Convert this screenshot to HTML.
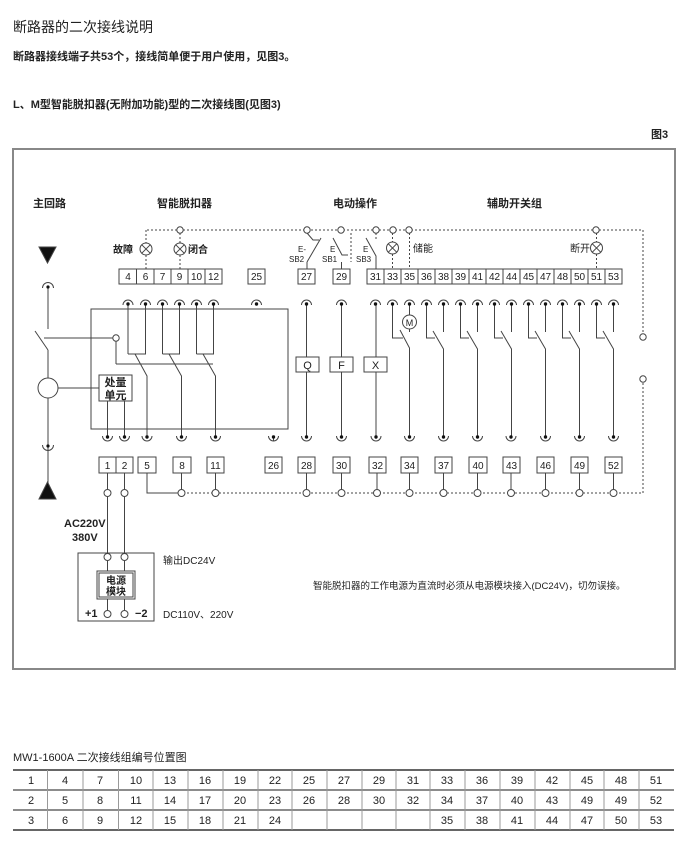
<!DOCTYPE html>
<html><head><meta charset="utf-8"><style>
html,body{margin:0;padding:0;background:#fff;}
body{width:700px;height:854px;position:relative;overflow:hidden;font-family:"Liberation Sans","Noto Sans CJK SC",sans-serif;color:#222;}
svg{position:absolute;left:0;top:0;}
</style></head><body>
<svg width="700" height="854" viewBox="0 0 700 854" xmlns="http://www.w3.org/2000/svg" font-family="Liberation Sans, Noto Sans CJK SC, sans-serif">
<g fill="#222">
<text x="13" y="32" font-size="14">断路器的二次接线说明</text>
<text x="13" y="60" font-size="11" font-weight="bold">断路器接线端子共53个，接线简单便于用户使用，见图3。</text>
<text x="13" y="108" font-size="11" font-weight="bold">L、M型智能脱扣器(无附加功能)型的二次接线图(见图3)</text>
<text x="651" y="138" font-size="11" font-weight="bold">图3</text>
</g>
<rect x="13" y="149" width="662" height="520" fill="none" stroke="#888" stroke-width="2"/>
<g font-size="11" font-weight="bold" fill="#222">
<text x="33" y="207">主回路</text>
<text x="157" y="207">智能脱扣器</text>
<text x="333" y="207">电动操作</text>
<text x="487" y="207">辅助开关组</text>
</g>
<g stroke="#444" stroke-width="1" fill="none">
<polygon points="39,247 56,247 47.5,263" fill="#111"/>
<path d="M42.5 288 A5.5 5.5 0 0 1 53.5 288"/>
<line x1="48" y1="287" x2="48" y2="329"/>
<line x1="35" y1="331" x2="48" y2="350"/>
<line x1="48" y1="350" x2="48" y2="378"/>
<circle cx="48" cy="388" r="10"/>
<line x1="48" y1="398" x2="48" y2="446"/>
<path d="M42.5 445 A5.5 5.5 0 0 0 53.5 445"/>
<line x1="48" y1="446" x2="48" y2="483"/>
<polygon points="39,499 56,499 47.5,482" fill="#111"/>
<line x1="44" y1="338" x2="113" y2="338"/>
<circle cx="116" cy="338" r="3.2" fill="#fff"/>
<line x1="116" y1="341" x2="116" y2="364"/>
<line x1="116" y1="364" x2="213" y2="364"/>
<line x1="58" y1="388" x2="99" y2="388"/>
<rect x="91" y="309" width="197" height="120"/>
<rect x="99" y="375" width="33" height="26" fill="#fff"/>
<line x1="107.5" y1="401" x2="107.5" y2="437"/>
<line x1="124.5" y1="401" x2="124.5" y2="437"/>
<rect x="119" y="269" width="103" height="15"/>
<line x1="136.5" y1="269" x2="136.5" y2="284"/><line x1="154" y1="269" x2="154" y2="284"/>
<line x1="171" y1="269" x2="171" y2="284"/><line x1="188" y1="269" x2="188" y2="284"/>
<line x1="205" y1="269" x2="205" y2="284"/>
<rect x="248" y="269" width="17" height="15"/>
<rect x="298" y="269" width="17" height="15"/>
<rect x="333" y="269" width="17" height="15"/>
<rect x="367" y="269" width="255" height="15"/>
<line x1="384" y1="269" x2="384" y2="284"/><line x1="401" y1="269" x2="401" y2="284"/><line x1="418" y1="269" x2="418" y2="284"/><line x1="435" y1="269" x2="435" y2="284"/><line x1="452" y1="269" x2="452" y2="284"/><line x1="469" y1="269" x2="469" y2="284"/><line x1="486" y1="269" x2="486" y2="284"/><line x1="503" y1="269" x2="503" y2="284"/><line x1="520" y1="269" x2="520" y2="284"/><line x1="537" y1="269" x2="537" y2="284"/><line x1="554" y1="269" x2="554" y2="284"/><line x1="571" y1="269" x2="571" y2="284"/><line x1="588" y1="269" x2="588" y2="284"/><line x1="605" y1="269" x2="605" y2="284"/>
<path d="M128 304V354 M145.5 304V354 M162.5 304V354 M179.5 304V354 M196.5 304V354 M213.5 304V354 M128 354H146 M162.5 354H180 M196.5 354H214 M135 354L147 376V437 M169 354L181.5 376V437 M203 354L215.5 376V437"/>
<path d="M306.5 304V437 M341.5 304V437 M376 304V437"/>
<path d="M392.5 304V338H403 M409.5 304V315 M409.5 329V332 M400 330L409.5 348V437"/>
<path d="M426.5 304V338H435 M443.5 304V332 M433 331L443.5 349V437"/>
<path d="M460.5 304V338H469 M477.5 304V332 M467 331L477.5 349V437"/>
<path d="M494.5 304V338H503 M511.5 304V332 M501 331L511.5 349V437"/>
<path d="M528.5 304V338H537 M545.5 304V332 M535 331L545.5 349V437"/>
<path d="M562.5 304V338H571 M579.5 304V332 M569 331L579.5 349V437"/>
<path d="M596.5 304V338H605 M613.5 304V332 M603 331L613.5 349V437"/>
<circle cx="409.5" cy="322" r="7" fill="#fff"/>
<rect x="296" y="357" width="23" height="15" fill="#fff"/>
<rect x="330" y="357" width="23" height="15" fill="#fff"/>
<rect x="364" y="357" width="23" height="15" fill="#fff"/>
<path d="M123 305A5 5 0 0 1 133 305 M140.5 305A5 5 0 0 1 150.5 305 M157.5 305A5 5 0 0 1 167.5 305 M174.5 305A5 5 0 0 1 184.5 305 M191.5 305A5 5 0 0 1 201.5 305 M208.5 305A5 5 0 0 1 218.5 305 M251.5 305A5 5 0 0 1 261.5 305 M301.5 305A5 5 0 0 1 311.5 305 M336.5 305A5 5 0 0 1 346.5 305 M370.5 305A5 5 0 0 1 380.5 305 M387.5 305A5 5 0 0 1 397.5 305 M404.5 305A5 5 0 0 1 414.5 305 M421.5 305A5 5 0 0 1 431.5 305 M438.5 305A5 5 0 0 1 448.5 305 M455.5 305A5 5 0 0 1 465.5 305 M472.5 305A5 5 0 0 1 482.5 305 M489.5 305A5 5 0 0 1 499.5 305 M506.5 305A5 5 0 0 1 516.5 305 M523.5 305A5 5 0 0 1 533.5 305 M540.5 305A5 5 0 0 1 550.5 305 M557.5 305A5 5 0 0 1 567.5 305 M574.5 305A5 5 0 0 1 584.5 305 M591.5 305A5 5 0 0 1 601.5 305 M608.5 305A5 5 0 0 1 618.5 305"/>
<path d="M102.5 436A5 5 0 0 0 112.5 436 M119.5 436A5 5 0 0 0 129.5 436 M142 436A5 5 0 0 0 152 436 M176.5 436A5 5 0 0 0 186.5 436 M210.5 436A5 5 0 0 0 220.5 436 M268.5 436A5 5 0 0 0 278.5 436 M301.5 436A5 5 0 0 0 311.5 436 M336.5 436A5 5 0 0 0 346.5 436 M371 436A5 5 0 0 0 381 436 M404.5 436A5 5 0 0 0 414.5 436 M438.5 436A5 5 0 0 0 448.5 436 M472.5 436A5 5 0 0 0 482.5 436 M506 436A5 5 0 0 0 516 436 M540.5 436A5 5 0 0 0 550.5 436 M574.5 436A5 5 0 0 0 584.5 436 M608.5 436A5 5 0 0 0 618.5 436"/>
<path d="M273.5 437V441"/>
<rect x="99" y="457" width="34" height="16"/><line x1="116" y1="457" x2="116" y2="473"/>
<rect x="138" y="457" width="18" height="16"/>
<rect x="173" y="457" width="18" height="16"/>
<rect x="207" y="457" width="17" height="16"/>
<rect x="265" y="457" width="17" height="16"/>
<rect x="298" y="457" width="17" height="16"/>
<rect x="333" y="457" width="17" height="16"/>
<rect x="369" y="457" width="17" height="16"/>
<rect x="401" y="457" width="17" height="16"/>
<rect x="435" y="457" width="17" height="16"/>
<rect x="469" y="457" width="18" height="16"/>
<rect x="503" y="457" width="17" height="16"/>
<rect x="537" y="457" width="17" height="16"/>
<rect x="571" y="457" width="17" height="16"/>
<rect x="605" y="457" width="17" height="16"/>
<path d="M147 473V493H178 M181.5 473V489 M215.5 473V489 M306.5 473V489 M341.5 473V489 M377 473V489 M409.5 473V489 M443.5 473V489 M477.5 473V489 M511 473V489 M545.5 473V489 M579.5 473V489 M613.5 473V489"/>
<path d="M107.5 473V489 M124.5 473V489 M107.5 497V553 M124.5 497V553"/>
<path d="M147 230H643V333 M643 383V493H185 M146 230V243 M146 255V269 M180 233V243 M180 255V269 M392.5 233V242 M392.5 254V269 M409.5 233V269 M596.5 233V242 M596.5 254V269 M351 233V262 M376 233V240" stroke-dasharray="2,2"/>
<path d="M307 233L313 240H319 M321 238L307 262 M307 262V269"/>
<path d="M333 238L342 255H348 M341.5 262V269"/>
<path d="M366 238L376 256V269"/>
<g>
<circle cx="146" cy="249" r="6" fill="#fff"/><path d="M141.8 244.8l8.4 8.4M150.2 244.8l-8.4 8.4"/>
<circle cx="180" cy="249" r="6" fill="#fff"/><path d="M175.8 244.8l8.4 8.4M184.2 244.8l-8.4 8.4"/>
<circle cx="392.5" cy="248" r="6" fill="#fff"/><path d="M388.3 243.8l8.4 8.4M396.7 243.8l-8.4 8.4"/>
<circle cx="596.5" cy="248" r="6" fill="#fff"/><path d="M592.3 243.8l8.4 8.4M600.7 243.8l-8.4 8.4"/>
</g>
<g fill="#fff">
<circle cx="180" cy="230" r="3.2"/><circle cx="307" cy="230" r="3.2"/><circle cx="341" cy="230" r="3.2"/><circle cx="376" cy="230" r="3.2"/><circle cx="393" cy="230" r="3.2"/><circle cx="409" cy="230" r="3.2"/><circle cx="596" cy="230" r="3.2"/>
<circle cx="643" cy="337" r="3.2"/><circle cx="643" cy="379" r="3.2"/>
<circle cx="107.5" cy="493" r="3.5"/><circle cx="124.5" cy="493" r="3.5"/>
<circle cx="181.5" cy="493" r="3.5"/><circle cx="215.5" cy="493" r="3.5"/><circle cx="306.5" cy="493" r="3.5"/><circle cx="341.5" cy="493" r="3.5"/><circle cx="377" cy="493" r="3.5"/><circle cx="409.5" cy="493" r="3.5"/><circle cx="443.5" cy="493" r="3.5"/><circle cx="477.5" cy="493" r="3.5"/><circle cx="511" cy="493" r="3.5"/><circle cx="545.5" cy="493" r="3.5"/><circle cx="579.5" cy="493" r="3.5"/><circle cx="613.5" cy="493" r="3.5"/>
</g>
<rect x="78" y="553" width="76" height="68"/>
<circle cx="107.5" cy="557" r="3.5" fill="#fff"/><circle cx="124.5" cy="557" r="3.5" fill="#fff"/>
<path d="M107.5 561V571 M124.5 561V571 M107.5 599V610 M124.5 599V610"/>
<rect x="97" y="571" width="38" height="28"/><rect x="99" y="573" width="34" height="24"/>
<circle cx="107.5" cy="614" r="3.5" fill="#fff"/><circle cx="124.5" cy="614" r="3.5" fill="#fff"/>
</g>
<g fill="#111">
<circle cx="48" cy="287" r="1.6"/><circle cx="48" cy="446" r="1.6"/>
<circle cx="128" cy="304" r="1.7"/><circle cx="145.5" cy="304" r="1.7"/><circle cx="162.5" cy="304" r="1.7"/><circle cx="179.5" cy="304" r="1.7"/><circle cx="196.5" cy="304" r="1.7"/><circle cx="213.5" cy="304" r="1.7"/><circle cx="256.5" cy="304" r="1.7"/><circle cx="306.5" cy="304" r="1.7"/><circle cx="341.5" cy="304" r="1.7"/><circle cx="375.5" cy="304" r="1.7"/><circle cx="392.5" cy="304" r="1.7"/><circle cx="409.5" cy="304" r="1.7"/><circle cx="426.5" cy="304" r="1.7"/><circle cx="443.5" cy="304" r="1.7"/><circle cx="460.5" cy="304" r="1.7"/><circle cx="477.5" cy="304" r="1.7"/><circle cx="494.5" cy="304" r="1.7"/><circle cx="511.5" cy="304" r="1.7"/><circle cx="528.5" cy="304" r="1.7"/><circle cx="545.5" cy="304" r="1.7"/><circle cx="562.5" cy="304" r="1.7"/><circle cx="579.5" cy="304" r="1.7"/><circle cx="596.5" cy="304" r="1.7"/><circle cx="613.5" cy="304" r="1.7"/>
<circle cx="107.5" cy="437" r="1.7"/><circle cx="124.5" cy="437" r="1.7"/><circle cx="147" cy="437" r="1.7"/><circle cx="181.5" cy="437" r="1.7"/><circle cx="215.5" cy="437" r="1.7"/><circle cx="273.5" cy="437" r="1.7"/><circle cx="306.5" cy="437" r="1.7"/><circle cx="341.5" cy="437" r="1.7"/><circle cx="376" cy="437" r="1.7"/><circle cx="409.5" cy="437" r="1.7"/><circle cx="443.5" cy="437" r="1.7"/><circle cx="477.5" cy="437" r="1.7"/><circle cx="511" cy="437" r="1.7"/><circle cx="545.5" cy="437" r="1.7"/><circle cx="579.5" cy="437" r="1.7"/><circle cx="613.5" cy="437" r="1.7"/>
</g>
<g font-size="10" fill="#222" text-anchor="middle">
<text x="128" y="280">4</text><text x="145.5" y="280">6</text><text x="162.5" y="280">7</text><text x="179.5" y="280">9</text><text x="196.5" y="280">10</text><text x="213.5" y="280">12</text><text x="256.5" y="280">25</text><text x="306.5" y="280">27</text><text x="341.5" y="280">29</text>
<text x="375.5" y="280">31</text><text x="392.5" y="280">33</text><text x="409.5" y="280">35</text><text x="426.5" y="280">36</text><text x="443.5" y="280">38</text><text x="460.5" y="280">39</text><text x="477.5" y="280">41</text><text x="494.5" y="280">42</text><text x="511.5" y="280">44</text><text x="528.5" y="280">45</text><text x="545.5" y="280">47</text><text x="562.5" y="280">48</text><text x="579.5" y="280">50</text><text x="596.5" y="280">51</text><text x="613.5" y="280">53</text>
<text x="107.5" y="469">1</text><text x="124.5" y="469">2</text><text x="147" y="469">5</text><text x="182" y="469">8</text><text x="215.5" y="469">11</text><text x="273.5" y="469">26</text><text x="306.5" y="469">28</text><text x="341.5" y="469">30</text><text x="377.5" y="469">32</text><text x="409.5" y="469">34</text><text x="443.5" y="469">37</text><text x="478" y="469">40</text><text x="511.5" y="469">43</text><text x="545.5" y="469">46</text><text x="579.5" y="469">49</text><text x="613.5" y="469">52</text>
<text x="307.5" y="369" font-size="11">Q</text><text x="341.5" y="369" font-size="11">F</text><text x="375.5" y="369" font-size="11">X</text>
<text x="409.5" y="326" font-size="9">M</text>
<text x="115.5" y="386" font-size="11" font-weight="bold">处量</text><text x="115.5" y="399" font-size="11" font-weight="bold">单元</text>
<text x="116" y="584" font-size="10" font-weight="bold">电源</text><text x="116" y="595" font-size="10" font-weight="bold">模块</text>
</g>
<g font-size="8" fill="#222">
<text x="298" y="252">E-</text><text x="289" y="262">SB2</text>
<text x="330" y="252">E</text><text x="322" y="262">SB1</text>
<text x="363" y="252">E</text><text x="356" y="262">SB3</text>
</g>
<g font-size="10" fill="#222" font-weight="bold">
<text x="113" y="253">故障</text><text x="188" y="253">闭合</text>
<text x="413" y="252" font-weight="normal">储能</text><text x="570" y="252" font-weight="normal">断开</text>
<text x="64" y="527" font-size="11">AC220V</text><text x="72" y="541" font-size="11">380V</text>
<text x="163" y="564" font-weight="normal">输出DC24V</text>
<text x="163" y="618" font-weight="normal">DC110V、220V</text>
<text x="85" y="617" font-size="11">+1</text><text x="135" y="617" font-size="11">−2</text>
<text x="313" y="589" font-weight="normal" font-size="9.5">智能脱扣器的工作电源为直流时必须从电源模块接入(DC24V)，切勿误接。</text>
</g>
<text x="13" y="761" font-size="11" fill="#222">MW1-1600A 二次接线组编号位置图</text>
<g stroke="#666" fill="none">
<line x1="13" y1="770" x2="674" y2="770" stroke-width="2"/>
<line x1="13" y1="790" x2="674" y2="790" stroke-width="1.5"/>
<line x1="13" y1="810" x2="674" y2="810" stroke-width="1.5"/>
<line x1="13" y1="830" x2="674" y2="830" stroke-width="2"/>
<path d="M47.5 770V830 M83 770V830 M118.5 770V830 M153 770V830 M188 770V830 M223 770V830 M258 770V830 M292 770V830 M327 770V830 M362 770V830 M396 770V830 M430 770V830 M465 770V830 M500 770V830 M535 770V830 M570 770V830 M604 770V830 M639 770V830" stroke="#999"/>
</g>
<g font-size="11" fill="#222" text-anchor="middle">
<text x="31" y="784">1</text><text x="65" y="784">4</text><text x="100" y="784">7</text><text x="136" y="784">10</text><text x="170" y="784">13</text><text x="205" y="784">16</text><text x="240" y="784">19</text><text x="275" y="784">22</text><text x="309" y="784">25</text><text x="344" y="784">27</text><text x="379" y="784">29</text><text x="413" y="784">31</text><text x="447" y="784">33</text><text x="482" y="784">36</text><text x="517" y="784">39</text><text x="552" y="784">42</text><text x="587" y="784">45</text><text x="621" y="784">48</text><text x="656" y="784">51</text>
<text x="31" y="804">2</text><text x="65" y="804">5</text><text x="100" y="804">8</text><text x="136" y="804">11</text><text x="170" y="804">14</text><text x="205" y="804">17</text><text x="240" y="804">20</text><text x="275" y="804">23</text><text x="309" y="804">26</text><text x="344" y="804">28</text><text x="379" y="804">30</text><text x="413" y="804">32</text><text x="447" y="804">34</text><text x="482" y="804">37</text><text x="517" y="804">40</text><text x="552" y="804">43</text><text x="587" y="804">49</text><text x="621" y="804">49</text><text x="656" y="804">52</text>
<text x="31" y="824">3</text><text x="65" y="824">6</text><text x="100" y="824">9</text><text x="136" y="824">12</text><text x="170" y="824">15</text><text x="205" y="824">18</text><text x="240" y="824">21</text><text x="275" y="824">24</text><text x="447" y="824">35</text><text x="482" y="824">38</text><text x="517" y="824">41</text><text x="552" y="824">44</text><text x="587" y="824">47</text><text x="621" y="824">50</text><text x="656" y="824">53</text>
</g>
</svg>
</body></html>
